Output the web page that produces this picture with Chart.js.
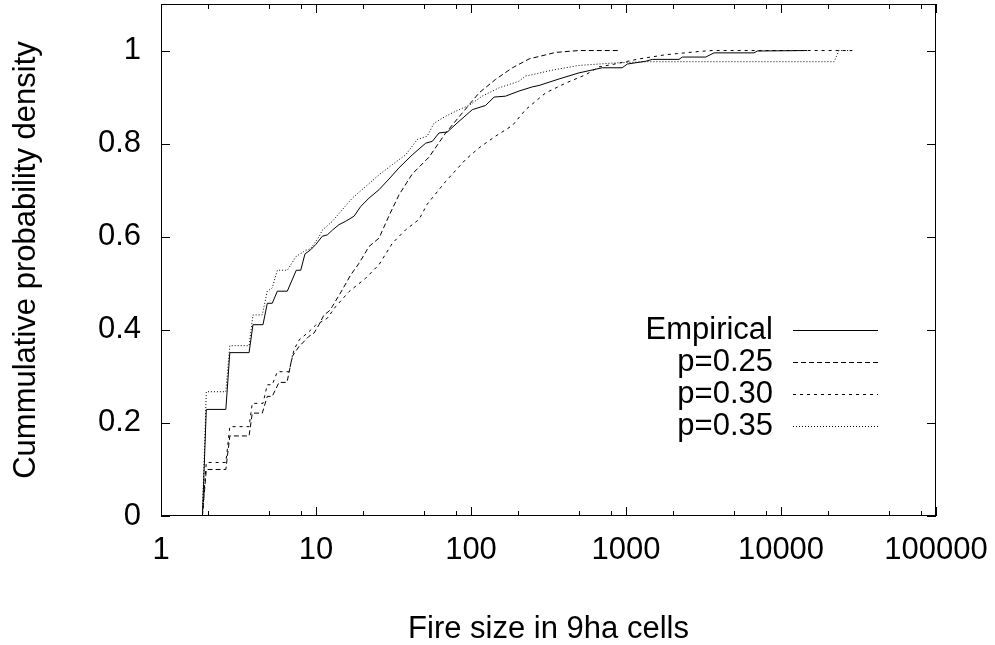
<!DOCTYPE html>
<html>
<head>
<meta charset="utf-8">
<script src="https://cdn.jsdelivr.net/npm/chart.js@4.4.1/dist/chart.umd.min.js"></script>
<style>
  html, body { margin: 0; padding: 0; background: #fff; }
</style>
</head>
<body>
<canvas id="Grafico_Fuego" width="995" height="645"></canvas>
<script>
// ejes
const xMajor = [1, 10, 100, 1000, 10000, 100000];
const xMinor = [2, 5, 8, 20, 50, 80, 200, 500, 800, 2000, 5000, 8000, 20000, 50000, 80000];
const yTicks = [0, 0.2, 0.4, 0.6, 0.8, 1];

// Empirical
const empSize = [1.85, 1.96, 2.62, 2.78, 3.70, 3.92, 4.55, 4.85, 5.22, 5.63, 6.53, 7.46, 7.97, 8.49, 9.24, 9.95, 10.98, 11.83, 12.74, 14.08, 15.5, 17.59, 19.43, 21.98, 25.5, 29.58, 34.32, 41.82, 51.03, 56.3, 62.2, 70.3, 83.7, 102, 124, 141, 167, 204, 249, 275, 370, 497, 703, 946, 1020, 1340, 1478, 2198, 2307, 3268, 3697, 6697, 7034, 14720];
const empCdf = [0, 0.229, 0.229, 0.351, 0.351, 0.411, 0.411, 0.457, 0.457, 0.483, 0.483, 0.528, 0.528, 0.563, 0.572, 0.583, 0.601, 0.604, 0.614, 0.626, 0.633, 0.644, 0.665, 0.683, 0.701, 0.724, 0.748, 0.776, 0.801, 0.805, 0.823, 0.825, 0.848, 0.873, 0.882, 0.900, 0.902, 0.913, 0.922, 0.925, 0.939, 0.952, 0.963, 0.963, 0.971, 0.977, 0.981, 0.981, 0.986, 0.986, 0.995, 0.995, 0.999, 1.0];

// p=0.25
const p25Size = [1.85, 1.96, 2.62, 2.78, 3.70, 3.88, 4.50, 4.85, 5.22, 5.77, 6.50, 7.03, 7.77, 9.01, 9.71, 10.46, 11.26, 12.13, 12.74, 14.78, 16.75, 18.95, 21.98, 25.5, 29.58, 34.32, 41.82, 53.6, 68.7, 87.9, 112.7, 144, 185, 237, 352, 497, 925];
const p25Cdf = [0, 0.100, 0.100, 0.172, 0.172, 0.221, 0.221, 0.257, 0.257, 0.287, 0.287, 0.343, 0.364, 0.386, 0.393, 0.411, 0.432, 0.440, 0.450, 0.486, 0.518, 0.543, 0.579, 0.597, 0.645, 0.690, 0.735, 0.771, 0.823, 0.866, 0.909, 0.938, 0.963, 0.982, 0.996, 1.0, 1.0];

// p=0.30
const p30Size = [1.85, 1.96, 2.62, 2.78, 3.70, 3.88, 4.55, 4.85, 5.22, 5.63, 6.70, 7.21, 7.77, 9.01, 9.95, 11.83, 13.40, 16.33, 20.93, 25.5, 31.08, 37.91, 46.18, 52.2, 68.7, 92.4, 112.7, 144, 185, 225, 303, 408, 549, 670, 816, 1213, 1800, 2958, 3590, 28840];
const p30Cdf = [0, 0.115, 0.115, 0.192, 0.192, 0.242, 0.242, 0.282, 0.282, 0.310, 0.310, 0.357, 0.378, 0.396, 0.410, 0.425, 0.450, 0.482, 0.511, 0.540, 0.586, 0.615, 0.637, 0.670, 0.719, 0.766, 0.791, 0.816, 0.839, 0.873, 0.909, 0.930, 0.948, 0.965, 0.970, 0.982, 0.991, 0.998, 1.0, 1.0];

// p=0.35
const p35Size = [1.85, 1.96, 2.62, 2.78, 3.70, 3.92, 4.50, 4.85, 5.22, 5.63, 6.53, 7.46, 8.09, 8.58, 9.24, 10.46, 10.98, 12.74, 14.78, 17.15, 20.93, 25.5, 31.08, 37.91, 45.04, 52.2, 57.7, 68.7, 83.7, 97, 118, 152, 204, 225, 335, 497, 816, 1340, 22000, 23660, 28840];
const p35Cdf = [0, 0.267, 0.267, 0.366, 0.366, 0.432, 0.432, 0.483, 0.490, 0.528, 0.528, 0.558, 0.565, 0.571, 0.574, 0.600, 0.614, 0.633, 0.658, 0.683, 0.708, 0.733, 0.755, 0.776, 0.809, 0.816, 0.844, 0.859, 0.873, 0.882, 0.902, 0.920, 0.934, 0.945, 0.958, 0.968, 0.973, 0.976, 0.976, 1.0, 1.0];

const seriesNames = ["Empirical", "p=0.25", "p=0.30", "p=0.35"];

function pares(xs, ys) {
  return xs.map((v, i) => ({ x: v, y: ys[i] }));
}

const FUENTE = "'Liberation Sans', Arial, sans-serif";

// marco y marcas hacia dentro, como gnuplot
const marcoGnuplot = {
  id: "marcoGnuplot",
  afterDatasetsDraw(chart) {
    const { ctx, chartArea: a, scales } = chart;
    const sx = scales.x, sy = scales.y;
    ctx.save();
    ctx.strokeStyle = "#000";
    ctx.lineWidth = 1;
    ctx.strokeRect(a.left + 0.5, a.top + 0.5, a.right - a.left - 1, a.bottom - a.top - 1);
    ctx.beginPath();
    const marcaX = (v, len) => {
      const px = Math.round(sx.getPixelForValue(v)) + 0.5;
      ctx.moveTo(px, a.bottom); ctx.lineTo(px, a.bottom - len);
      ctx.moveTo(px, a.top); ctx.lineTo(px, a.top + len);
    };
    xMajor.forEach(v => marcaX(v, 9));
    xMinor.forEach(v => marcaX(v, 5));
    yTicks.forEach(v => {
      const py = Math.round(sy.getPixelForValue(v)) + 0.5;
      ctx.moveTo(a.left, py); ctx.lineTo(a.left + 9, py);
      ctx.moveTo(a.right, py); ctx.lineTo(a.right - 9, py);
    });
    ctx.stroke();
    ctx.restore();
  }
};

// leyenda: texto a la izquierda y muestra de línea a la derecha
const leyendaGnuplot = {
  id: "leyendaGnuplot",
  afterDatasetsDraw(chart) {
    const { ctx, chartArea: a } = chart;
    ctx.save();
    ctx.font = "31px " + FUENTE;
    ctx.fillStyle = "#000";
    ctx.textAlign = "right";
    ctx.textBaseline = "middle";
    chart.data.datasets.forEach((ds, i) => {
      const yy = a.top + 326 + i * 32;
      ctx.fillText(ds.label, a.right - 163, yy);
      ctx.beginPath();
      ctx.setLineDash(ds.borderDash || []);
      ctx.strokeStyle = ds.borderColor;
      ctx.lineWidth = ds.borderWidth;
      ctx.moveTo(a.right - 143, Math.round(yy) + 0.5);
      ctx.lineTo(a.right - 58, Math.round(yy) + 0.5);
      ctx.stroke();
    });
    ctx.restore();
  }
};

document.addEventListener("DOMContentLoaded", () => {
  const lienzo = document.getElementById("Grafico_Fuego");
  Chart.defaults.color = "#000";
  Chart.defaults.font.family = FUENTE;
  Chart.defaults.font.size = 31;

  const estilo = (label, datos, dash) => ({
    label: label,
    data: datos,
    borderColor: "#000",
    backgroundColor: "#000",
    borderWidth: 1,
    borderDash: dash,
    pointRadius: 0,
    tension: 0,
    fill: false
  });

  new Chart(lienzo.getContext("2d"), {
    type: "line",
    data: {
      datasets: [
        estilo(seriesNames[0], pares(empSize, empCdf), []),
        estilo(seriesNames[1], pares(p25Size, p25Cdf), [5, 3]),
        estilo(seriesNames[2], pares(p30Size, p30Cdf), [3, 4]),
        estilo(seriesNames[3], pares(p35Size, p35Cdf), [1, 2])
      ]
    },
    options: {
      responsive: false,
      animation: false,
      layout: { padding: { top: 4, right: 59, left: 0, bottom: 0 } },
      plugins: {
        legend: { display: false },
        tooltip: { enabled: false }
      },
      scales: {
        x: {
          type: "logarithmic",
          min: 1,
          max: 100000,
          grid: { display: false, drawTicks: false },
          border: { display: false },
          ticks: {
            autoSkip: false,
            maxRotation: 0,
            padding: 16,
            callback: v => String(v)
          },
          afterBuildTicks: s => { s.ticks = xMajor.map(v => ({ value: v })); },
          afterFit: s => {
            s.height = 129;
            s.paddingLeft = 0;
            s.paddingRight = 0;
          },
          title: {
            display: true,
            text: "Fire size in 9ha cells",
            font: { size: 31, lineHeight: 1 },
            padding: { top: 0, bottom: 0 }
          }
        },
        y: {
          min: 0,
          max: 1.1,
          grid: { display: false, drawTicks: false },
          border: { display: false },
          ticks: {
            padding: 20,
            callback: v => String(v)
          },
          afterBuildTicks: s => { s.ticks = yTicks.map(v => ({ value: v })); },
          afterFit: s => {
            s.width = 161;
            s.paddingTop = 0;
            s.paddingBottom = 0;
          },
          title: {
            display: true,
            text: "Cummulative probability density",
            font: { size: 31, lineHeight: 1.2 },
            padding: { top: 8, bottom: 0 }
          }
        }
      }
    },
    plugins: [marcoGnuplot, leyendaGnuplot]
  });
});
</script>
</body>
</html>
